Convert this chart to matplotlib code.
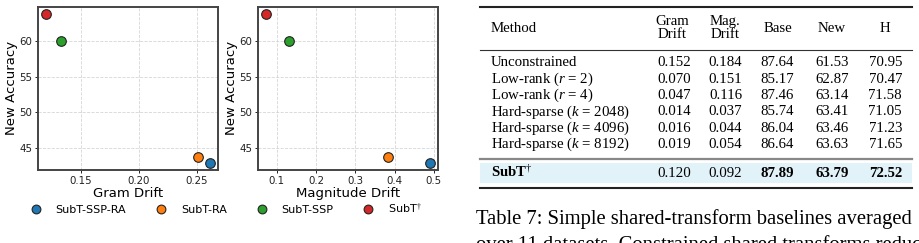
import matplotlib
matplotlib.use("Agg")
import matplotlib.pyplot as plt
from matplotlib.lines import Line2D
from matplotlib.patches import Rectangle

plt.rcParams['mathtext.fontset'] = 'custom'
plt.rcParams['mathtext.rm'] = 'Liberation Serif'
plt.rcParams['mathtext.it'] = 'Liberation Serif:italic'
plt.rcParams['mathtext.bf'] = 'Liberation Serif:bold'

# ---- scatter data ----
methods = ['SubT-SSP-RA', 'SubT-RA', 'SubT-SSP', r'SubT$^{\dagger}$']
colors = ['#1f77b4', '#ff7f0e', '#2ca02c', '#d62728']
gram_drift = [0.261, 0.251, 0.133, 0.120]
mag_drift = [0.490, 0.383, 0.131, 0.072]
new_acc = [42.95, 43.70, 60.05, 63.79]

# ---- table data ----
tab_methods = ['Unconstrained', r'Low-rank ($r$ = 2)', r'Low-rank ($r$ = 4)',
               r'Hard-sparse ($k$ = 2048)', r'Hard-sparse ($k$ = 4096)',
               r'Hard-sparse ($k$ = 8192)']
tab_gram = ['0.152', '0.070', '0.047', '0.014', '0.016', '0.019']
tab_mag = ['0.184', '0.151', '0.116', '0.037', '0.044', '0.054']
tab_base = ['87.64', '85.17', '87.46', '85.74', '86.04', '86.64']
tab_new = ['61.53', '62.87', '63.14', '63.41', '63.46', '63.63']
tab_h = ['70.95', '70.47', '71.58', '71.05', '71.23', '71.65']
ours = [r'SubT$^{\dagger}$', '0.120', '0.092', '87.89', '63.79', '72.52']
caption_lines = ['Table 7: Simple shared-transform baselines averaged',
                 'over 11 datasets. Constrained shared transforms reduce']

W, H = 919, 243
fig = plt.figure(figsize=(W / 100, H / 100), dpi=100)

def px_axes(x0, y0, x1, y1):
    return fig.add_axes([x0 / W, 1 - y1 / H, (x1 - x0) / W, (y1 - y0) / H])

ax1 = px_axes(37.7, 6.7, 218, 170)
ax2 = px_axes(257.7, 6.7, 438, 170)

for ax, xs, xl in [(ax1, gram_drift, 'Gram Drift'), (ax2, mag_drift, 'Magnitude Drift')]:
    for x, y, c in zip(xs, new_acc, colors):
        ax.scatter(x, y, s=48, color=c, edgecolor='#222222', linewidth=0.8, zorder=3)
    ax.grid(True, linestyle='--', color='#cccccc', linewidth=0.6, alpha=0.8)
    ax.set_axisbelow(True)
    for sp in ax.spines.values():
        sp.set_color('#444444')
        sp.set_linewidth(1.4)
    ax.tick_params(labelsize=7.4, length=2.5, width=0.7, pad=1.5, colors='#222222')
    ax.set_xlabel(xl, fontsize=9.5, labelpad=1)
    ax.set_ylabel('New Accuracy', fontsize=9.5, labelpad=1)
    ax.set_yticks([45, 50, 55, 60])

ax2.set_xticks([0.1, 0.2, 0.3, 0.4, 0.5])

handles = [Line2D([], [], marker='o', linestyle='', markersize=6.3, markerfacecolor=c,
                  markeredgecolor='#222222', markeredgewidth=0.8) for c in colors]
fig.legend(handles, methods, loc='center', ncol=4, frameon=False, fontsize=8,
           bbox_to_anchor=(226 / W, 1 - 209 / H), handletextpad=1.3,
           columnspacing=2.62, handlelength=1.0, borderaxespad=0)

# ---- table overlay in pixel coordinates ----
ov = fig.add_axes([0, 0, 1, 1])
ov.set_xlim(0, W)
ov.set_ylim(H, 0)
ov.axis('off')

serif = 'Liberation Serif'
fs = 10.7
tx0, tx1 = 480, 911.7
ov.add_line(Line2D([tx0, tx1], [6.7, 6.7], color='#222222', lw=1.5))
ov.add_line(Line2D([tx0, tx1], [50, 50], color='#333333', lw=0.8))
ov.add_line(Line2D([tx0, tx1], [159, 159], color='#888888', lw=1.6))
ov.add_patch(Rectangle((tx0, 163), tx1 - tx0, 20, facecolor='#e2f2f9', edgecolor='none'))
ov.add_line(Line2D([tx0, tx1], [187.5, 187.5], color='#222222', lw=1.5))

col_x = [674, 725.5, 777.5, 831.7, 885.3]
ov.text(490.7, 29, 'Method', family=serif, fontsize=fs, va='center', ha='left')
ov.text(672, 28, 'Gram\nDrift', family=serif, fontsize=fs, va='center', ha='center', linespacing=1.0)
ov.text(725.5, 28, 'Mag.\nDrift', family=serif, fontsize=fs, va='center', ha='center', linespacing=1.0)
for x, t in zip(col_x[2:], ['Base', 'New', 'H']):
    ov.text(x, 29, t, family=serif, fontsize=fs, va='center', ha='center')

row_y0, row_dy = 62.7, 16.35
for i, m in enumerate(tab_methods):
    y = row_y0 + i * row_dy
    ov.text(490.7, y + 3.6, m, family=serif, fontsize=fs, va='baseline', ha='left')
    for x, v in zip(col_x, [tab_gram[i], tab_mag[i], tab_base[i], tab_new[i], tab_h[i]]):
        ov.text(x, y + 3.6, v, family=serif, fontsize=fs, va='baseline', ha='center')

ov.text(490.7, 177, ours[0], family=serif, fontsize=fs, va='baseline', ha='left', weight='bold')
for j, (x, v) in enumerate(zip(col_x, ours[1:])):
    ov.text(x, 177, v, family=serif, fontsize=fs, va='baseline', ha='center',
            weight='bold' if j >= 2 else 'normal')

ov.text(475.7, 224.3, caption_lines[0], family=serif, fontsize=14.85, va='baseline', ha='left')
ov.text(475.7, 250, caption_lines[1], family=serif, fontsize=14.85, va='baseline', ha='left')

fig.savefig('out.png', dpi=100)
